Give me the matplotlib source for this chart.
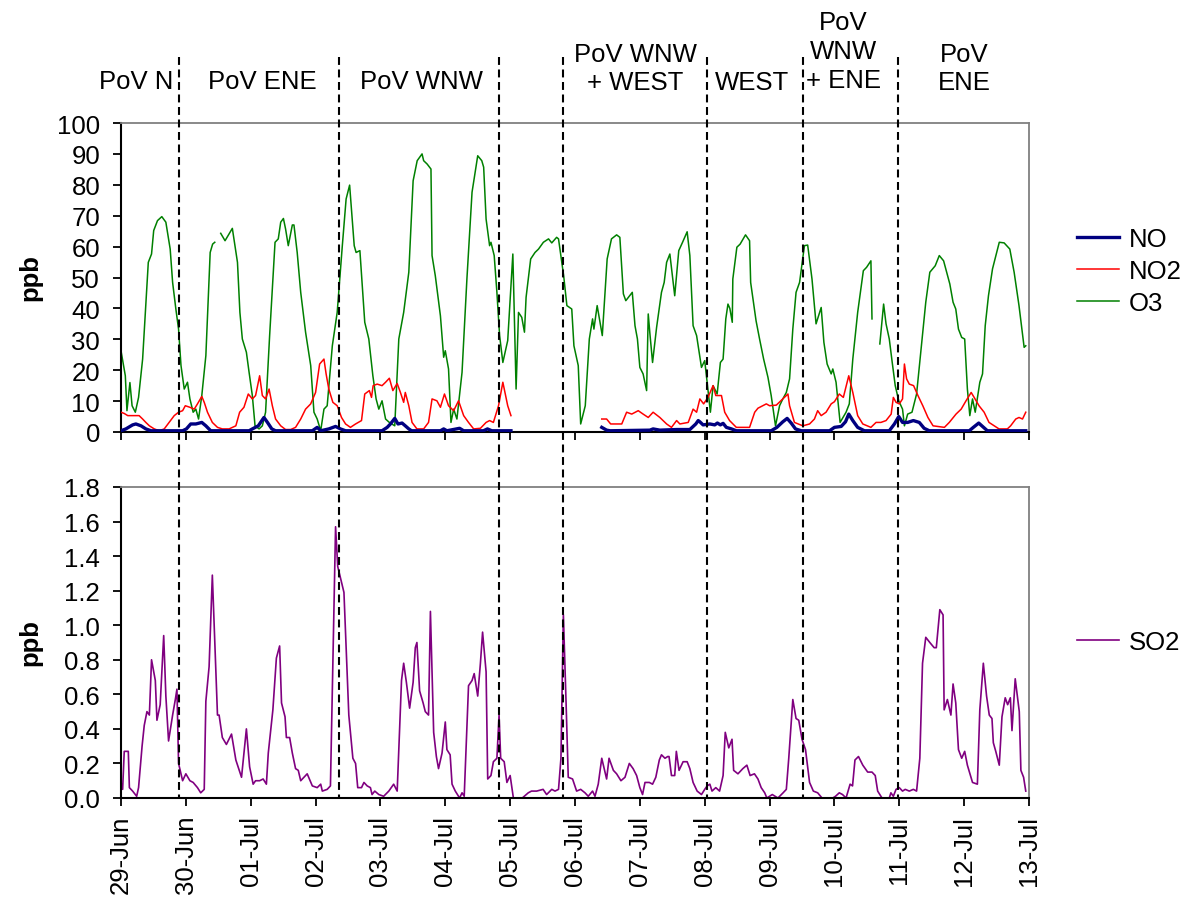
import numpy as np
import matplotlib
matplotlib.use("Agg")
import matplotlib.pyplot as plt
from matplotlib.lines import Line2D
import matplotlib.transforms as mtransforms

plt.rcParams['font.family'] = ['Liberation Sans', 'DejaVu Sans']
FS = 18.5
nan = np.nan

# ---------------- data (time in hours since 29-Jun 00:00) ----------------
tick_labels = ['29-Jun', '30-Jun', '01-Jul', '02-Jul', '03-Jul', '04-Jul', '05-Jul', '06-Jul',
               '07-Jul', '08-Jul', '09-Jul', '10-Jul', '11-Jul', '12-Jul', '13-Jul']

o3_t = [0, 1.6, 2.2, 3.3, 4.1, 5.3, 6.5, 8, 10.1, 11.3, 12.1, 13.5, 15.1, 16.6, 18.2, 19.1, 20.3, 21.3,
        22.2, 23.4, 24.6, 25.5, 26.7, 27.7, 28.7, 29.9, 31.4, 33, 33.9, 34.7, 35.8, 36.9, 38.5, 41.2,
        43.1, 44, 44.9, 46.4, 47.4, 48.6, 49.6, 51.1, 52.3, 53.5, 55, 57, 58.2, 59.1, 60.1, 60.9, 61.9,
        63.4, 64, 65.2, 66.5, 68.3, 70.2, 71.4, 72.6, 73.9, 75.1, 76.3, 78.2, 80, 81.9, 83.3, 84.6,
        86.3, 87, 88.4, 90.2, 91.7, 93.2, 94.4, 95.4, 96.6, 97.9, 99.3, 101.3, 102.8, 104.6, 106.5,
        108.1, 109.6, 110.5, 111.4, 112, 113.3, 114.7, 115.1, 116.3, 118.2, 119.4, 120, 121.2, 122.1,
        123.1, 124.3, 126.2, 128, 129.9, 132, 133.5, 134.2, 135.1, 136.4, 136.9, 138.1, 139.1, 140.1,
        141.3, 143.1, 145, 146.2, 147.1, 148.3, 149.3, 149.9, 151.6, 153.2, 154.5, 156.3, 158.2,
        159.4, 161.2, 161.9, 163.8, 165, 166.8, 167.6, 169.2, 170.1, 171.8, 173.3, 174.5, 175, 176.2,
        178.1, 179.9, 181.5, 183.4, 184.6, 185.9, 186.8, 189.2, 190.2, 191.1, 192, 193.2, 194.5,
        195.1, 195.7, 196.7, 198.2, 200, 201, 201.9, 203.1, 204.9, 206.4, 207.8, 209.5, 210.5, 211.7,
        213, 214.8, 216, 216.9, 218.1, 219.1, 220.6, 221.8, 222.8, 223.8, 224.6, 225.3, 226.2, 226.4,
        227.9, 229.1, 231.1, 232.6, 233, 235, 236.3, 237.8, 239.4, 240.6, 242.2, 243.7, 244.9, 246.2,
        247.4, 248.6, 249.8, 251.1, 252.9, 254.1, 255.7, 257.2, 259.1, 260.1, 261.3, 262.8, 263.4,
        264.6, 265.6, 266.1, 268.3, 269.5, 270.8, 272.6, 274.7, 275.9, 277.5, 277.9, 279, 280.8,
        282.2, 283.1, 284.3, 285.3, 286.5, 287.8, 289.2, 289.9, 291.1, 292.7, 294.4, 296.2, 297.8,
        299.3, 301.3, 302.8, 304.4, 306.7, 307.9, 308.9, 309.9, 311.1, 312.2, 313.2, 314.1, 315.1,
        316.1, 317.8, 318.8, 319.8, 321, 322.5, 325, 326.8, 328.9, 330.5, 332.3, 334.2, 334.8]
o3_v = [26.3, 18.2, 6.9, 16, 8.5, 6.4, 11.2, 23.6, 54.9, 57.6, 65.2, 68.4, 69.7, 67.9, 59.2, 48.4, 39.8,
        33.3, 21.5, 13.9, 16.1, 10.7, 6.4, 7.4, 4.2, 11.8, 24.7, 58.1, 60.8, 61.4, nan, 64.3, 61.9,
        65.9, 54.9, 38.7, 30.1, 25.8, 19.3, 11.8, 2, 1, 2, 6.4, 31.2, 61.4, 62.5, 67.9, 69.1, 65.7,
        60.3, 67, 67, 58.1, 45.2, 32.3, 21.5, 6.4, 4.2, 0.4, 7.4, 8.5, 27.9, 38.7, 60.3, 75.4, 79.9,
        60.3, 58.1, 58.7, 35.5, 30.1, 18.2, 10.7, 7.4, 10.1, 4.2, 3.1, 2, 30.1, 38.7, 51.7, 81.3,
        87.8, 88.9, 90, 87.8, 86.7, 85.1, 57.1, 50.6, 37.6, 24.2, 26.3, 20.4, 3.1, 7.4, 4.2, 19.3,
        49.5, 77.6, 89.4, 87.8, 85.7, 68.9, 60.3, 61.4, 57.1, 45.2, 31.2, 22.5, 29.6, 57.6, 13.9,
        38.7, 37.1, 32.3, 43.6, 56, 58.1, 59.2, 61.4, 62.5, 61.2, 63, 62.5, 50.6, 40.9, 39.8, 27.9,
        21.5, 2.6, 8.5, 30.1, 36.6, 33.3, 40.9, 31.2, 56, 62.5, 63.8, 63, 44.7, 42.5, 45.2, 34.4,
        30.1, 20.9, 18.8, 13.4, 38.2, 32, 22.5, 33.9, 45.2, 48.4, 54.9, 57.6, 44.1, 58.7, 61.4, 64.8,
        57.1, 34.4, 31.2, 20.9, 23.1, 16.1, 6.4, 15, 12.3, 22.5, 23.6, 36.6, 41.4, 40, 35.5, 49.5,
        59.8, 60.8, 63.8, 61.9, 48.4, 36, 30.1, 23.6, 17.7, 11.8, 2, 8.5, 10.7, 12.8, 17.2, 33.3,
        45.2, 48.4, 60.3, 60.5, 49.5, 35, 40.3, 29, 22, 18.8, 20.4, 16.1, 7.4, 3.1, 6.4, 9.1, 23.6,
        38.7, 52.2, 53.3, 55.4, 36.6, nan, 28.5, 41.4, 35, 30.1, 23.1, 15, 10.1, 7.4, 2, 5.8, 6.4,
        12.3, 27.9, 42, 51.7, 53.8, 57.1, 55.4, 47.9, 42, 39.8, 33.3, 30.6, 30.1, 13.9, 5.3, 10.7,
        6.4, 16.1, 18.8, 34.4, 44.1, 52.8, 61.4, 61.2, 59.2, 51.7, 40.9, 27.4, 27.9]

no2_t = [0, 1.2, 2.5, 5.5, 6.7, 8, 9.2, 10.5, 12.3, 14.2, 16, 17.8, 19.7, 21.3, 22.8, 23.8, 25.5, 27.1,
         28.3, 29.9, 30.8, 32, 33.8, 35.7, 37.5, 40, 42.5, 43.9, 45.5, 47.1, 48.6, 49.8, 51.3, 52.3,
         53.5, 54.8, 56, 57.2, 59.1, 60.9, 62.8, 64.6, 66.5, 68.3, 70.2, 72, 73.5, 75.1, 75.9, 76.9,
         78.4, 80, 81.6, 83.1, 84.9, 86.8, 89, 90.2, 91.9, 92.7, 93.3, 94.8, 96.6, 97.9, 99.3, 100.6,
         102.2, 103.4, 104.6, 105.2, 106.5, 107.7, 109.5, 112, 113.8, 115.1, 116.9, 118.2, 119.7,
         121.2, 123.1, 124.9, 126.8, 128.6, 130.5, 133, 135.1, 136.4, 137.8, 139.7, 141.3, 143.1,
         144.3, 160, 177.9, 179.7, 181.2, 185.3, 187.1, 189, 191.4, 193.2, 195.1, 196.9, 199.4,
         201.9, 203.7, 205.6, 206.8, 209.9, 211.7, 213, 214.2, 215.6, 217.2, 219.1, 220.1, 222.2,
         223.4, 225.2, 227.7, 232.6, 234.5, 235.7, 238.8, 240, 242.5, 244.9, 246.8, 247.4, 249.2,
         252.3, 254.8, 256.6, 257.8, 259.1, 260.9, 262.8, 264, 265.8, 267.3, 269.3, 270.8, 272.6,
         274.5, 277.5, 279.4, 281.2, 283.1, 285, 285.8, 286.8, 288, 289.2, 289.9, 290.7, 291.7,
         293.3, 294.9, 296.7, 298.6, 300.5, 304.7, 306.5, 309, 310.9, 312.7, 314.6, 315.7, 317.5,
         319.4, 321.2, 324.9, 328, 329.2, 331.1, 332.3, 333.6, 334.8]
no2_v = [6.4, 6, 5.3, 5.3, 5.3, 4.2, 3.1, 2, 1, 0.4, 1, 3.1, 5.3, 6.4, 6.9, 8.5, 8, 7.4, 9.1, 11.5,
         9.6, 6.4, 3.1, 1.5, 1, 1, 2, 6.4, 8, 12.3, 10.7, 11.8, 18.2, 11.8, 10.7, 13.9, 8.5, 4.2, 2,
         0.8, 0.8, 1.5, 4.2, 7.4, 9.1, 12.8, 22, 23.6, 18.8, 13.9, 9.6, 8.5, 4.7, 2.6, 1.5, 2.6, 3.7,
         12.3, 13.4, 11.2, 15, 15.5, 15, 16.1, 17.4, 13.4, 15.7, 12.8, 9.6, 12.8, 8.5, 3.1, 1, 1,
         3.1, 10.7, 10.1, 8, 12.3, 8.5, 6.9, 10.1, 5.3, 3.1, 1, 1.2, 3.1, 3.7, 3.1, 8.5, 16.1, 8.5,
         5.3, nan, 4.2, 4.2, 2.6, 2.6, 6.4, 5.8, 6.9, 5.8, 4.7, 6.4, 4.7, 2.6, 1.5, 3.7, 2.6, 3.1,
         7.4, 6.4, 10.7, 9.1, 11.2, 15, 11.8, 11.8, 6.4, 3.7, 1.5, 1.5, 6.4, 7.7, 9.1, 8.5, 8.7,
         10.7, 12.3, 8.5, 3.1, 2, 2.6, 4.2, 6.9, 5.3, 6.4, 9.1, 9.8, 12.3, 11.2, 18.2, 12.8, 5.3, 2.6,
         1.5, 3.1, 3.1, 3.7, 5.8, 11.2, 9.6, 9.1, 10.7, 22, 17.2, 15.5, 15, 11.8, 8.5, 4.7, 2, 1.5,
         3.1, 5.8, 7.4, 10.1, 12.8, 11.2, 8.5, 6.4, 3.1, 1, 1, 2, 4.2, 4.7, 4.2, 6.4]

no_t = [0, 1.8, 4.3, 5.5, 7.4, 9.2, 11.1, 22.8, 24.2, 25.8, 27.7, 29.9, 31.4, 33.2, 47.4, 48.6, 50.8,
        52.9, 54.2, 55.8, 57.2, 70.8, 72.6, 73.9, 76.9, 79.4, 81.2, 83.1, 96.6, 98.5, 99.7, 101.3,
        102.5, 104, 105.2, 106.5, 107.5, 118.2, 119.4, 120.6, 125.3, 126.8, 134.1, 135.6, 137.2,
        144.3, 160, 177.9, 179.7, 181, 195.7, 196.9, 199.4, 205.6, 210.5, 212.7, 213.6, 214.2,
        215.4, 217.9, 219.7, 220.7, 221.8, 222.8, 224, 225.9, 227.7, 240.6, 242.7, 244.9, 246.5,
        248, 249.6, 251.7, 262.2, 264, 266.5, 268.1, 269.3, 270.8, 272.6, 275.1, 284.3, 286.2,
        287.8, 289.2, 291.1, 293.2, 295.4, 297.2, 299.1, 313.9, 315.4, 317.4, 318.8, 320.6, 334.8]
no_v = [0.4, 1, 2.3, 2.6, 2, 1, 0.4, 0.4, 1, 2.6, 2.6, 3.1, 2, 0.4, 0.4, 1, 2, 4.7, 3.1, 1, 0.4, 0.4,
        1.5, 0.4, 1, 1.8, 1, 0.4, 0.4, 1.5, 2.6, 4.4, 2.6, 2.9, 2, 1, 0.4, 0.4, 1, 0.4, 1.2, 0.4,
        0.4, 1, 0.4, 0.4, nan, 1.5, 0.6, 0.4, 0.6, 1, 0.6, 0.8, 0.8, 2.6, 3.7, 3.3, 2.3, 2.6, 2.3,
        2.9, 2.3, 2.8, 1.5, 1, 0.4, 0.4, 1.5, 3.3, 4.4, 2.9, 1, 0.4, 0.4, 1.5, 1.8, 3.3, 5.8, 3.7,
        1.5, 0.4, 0.4, 2.6, 5, 3.1, 3.1, 3.7, 3.1, 1.2, 0.4, 0.4, 1.5, 2.9, 1.8, 0.4, 0.4]

so2_t = [0, 0.6, 1.2, 2.7, 3.1, 4.3, 5.8, 6.5, 7.8, 8.6, 9.6, 10.5, 11.3, 12.7, 13.3, 14.5, 15.8, 16.6,
         17.6, 19.1, 20.1, 20.7, 21.3, 22.8, 24, 25.5, 26.7, 28.3, 29.5, 30.8, 31.4, 32.6, 33.8, 35.7,
         36.3, 37.5, 39, 40.9, 42.5, 44.6, 46.4, 47.6, 48.9, 49.8, 51.3, 52.6, 53.8, 54.5, 56.2, 57.5,
         58.7, 59.4, 60.7, 61.2, 62.4, 63.4, 64.6, 65.6, 66.5, 68.9, 70.8, 72.6, 73.9, 74.5, 76.3,
         77.5, 79.4, 80.2, 82.5, 84.3, 85.8, 86.8, 87.6, 89, 89.9, 91.1, 92.3, 92.9, 93.9, 95.4, 97.2,
         99.1, 100.9, 102.2, 103.8, 104.6, 105.6, 106.8, 108.1, 108.9, 109.5, 110.5, 111.8, 112.6,
         113.8, 114.5, 115.7, 116.7, 117.5, 118.8, 120, 120.6, 121.8, 122.5, 123.7, 125.3, 126.2, 127,
         128.6, 129.9, 130.7, 132, 133, 133.8, 135.1, 135.7, 136.9, 137.8, 139.1, 139.9, 140.5, 141.8,
         142.8, 144, 145.2, 146.5, 148.5, 150.7, 151.9, 153.8, 156.2, 157.5, 159.4, 160.6, 161.9,
         162.8, 163.7, 164.7, 165.5, 167.1, 168.6, 170.1, 171.7, 172.9, 174.5, 175.4, 176.6, 177.9,
         179.7, 180.6, 182.2, 183.4, 185, 186.5, 188.1, 189.5, 190.8, 192, 193, 193.9, 195.5, 196.7,
         197.9, 199.2, 200, 201.3, 202.3, 202.8, 203.7, 204.9, 205.5, 206.5, 208, 209.5, 210.5, 211.7,
         213.2, 214.8, 216, 216.9, 217.9, 218.7, 220.1, 221.5, 222.8, 223.6, 224.9, 226.1, 226.7,
         228.3, 230.1, 231.6, 232.8, 234.4, 235.7, 236.9, 238.2, 239, 241, 243.1, 245, 246.2, 247.1,
         248.6, 249.8, 250.8, 252, 253.3, 254.8, 256.2, 257.8, 259.4, 263.4, 264.4, 265.8, 267,
         268.3, 269.8, 270.7, 271.6, 272.9, 274.5, 276.3, 277.9, 279.1, 280, 281.6, 284.3, 284.9,
         285.8, 286.8, 288, 289.2, 290.2, 291.7, 293.2, 294.4, 295.6, 296.6, 297.8, 299.3, 300.9,
         301.7, 303, 304.2, 304.6, 305.8, 307.1, 307.9, 308.9, 309.9, 311.1, 312.2, 313.2, 315.1,
         316.9, 317.8, 319.1, 320.3, 321.3, 322.3, 322.8, 323.7, 325, 326, 327.2, 328.1, 329.1,
         329.7, 330.9, 332.4, 333, 334, 334.8]
so2_v = [0.09, 0.05, 0.27, 0.27, 0.06, 0.04, 0.01, 0.06, 0.30, 0.42, 0.50, 0.48, 0.80, 0.68, 0.45, 0.54,
         0.94, 0.59, 0.33, 0.48, 0.57, 0.63, 0.20, 0.10, 0.14, 0.10, 0.09, 0.06, 0.03, 0.05, 0.56,
         0.76, 1.29, 0.48, 0.48, 0.35, 0.31, 0.37, 0.22, 0.12, 0.40, 0.18, 0.08, 0.10, 0.10, 0.11,
         0.08, 0.26, 0.51, 0.81, 0.88, 0.55, 0.47, 0.35, 0.35, 0.26, 0.17, 0.16, 0.10, 0.14, 0.07,
         0.06, 0.08, 0.04, 0.05, 0.07, 1.57, 1.34, 1.19, 0.48, 0.23, 0.20, 0.06, 0.06, 0.09, 0.07,
         0.06, 0.02, 0.04, 0.02, 0.01, 0.04, 0.08, 0.04, 0.68, 0.78, 0.67, 0.52, 0.67, 0.87, 0.90,
         0.62, 0.55, 0.50, 0.48, 1.08, 0.38, 0.24, 0.17, 0.26, 0.44, 0.28, 0.25, 0.08, 0.04, 0.00,
         0.03, 0.01, 0.65, 0.68, 0.72, 0.59, 0.78, 0.96, 0.73, 0.11, 0.13, 0.21, 0.23, 0.48, 0.23,
         0.21, 0.09, 0.13, 0.00, 0.00, 0.00, 0.03, 0.04, 0.04, 0.05, 0.02, 0.05, 0.04, 0.05, 0.23,
         1.06, 0.55, 0.12, 0.11, 0.04, 0.05, 0.03, 0.01, 0.04, 0.01, 0.08, 0.23, 0.11, 0.23, 0.16,
         0.14, 0.10, 0.12, 0.20, 0.17, 0.13, 0.06, 0.02, 0.09, 0.09, 0.08, 0.12, 0.22, 0.25, 0.23,
         0.24, 0.24, 0.13, 0.13, 0.27, 0.16, 0.21, 0.21, 0.17, 0.09, 0.04, 0.02, 0.05, 0.07, 0.08,
         0.04, 0.06, 0.04, 0.13, 0.38, 0.29, 0.34, 0.16, 0.14, 0.17, 0.19, 0.13, 0.14, 0.11, 0.06,
         0.03, 0.00, 0.02, 0.00, 0.03, 0.05, 0.23, 0.57, 0.46, 0.45, 0.34, 0.28, 0.09, 0.04, 0.03,
         0.00, 0.00, 0.01, 0.03, 0.02, 0.00, 0.08, 0.07, 0.22, 0.24, 0.19, 0.15, 0.15, 0.13, 0.04,
         0.00, 0.00, 0.03, 0.01, 0.05, 0.06, 0.04, 0.05, 0.04, 0.05, 0.04, 0.23, 0.78, 0.93, 0.90,
         0.87, 0.87, 1.09, 1.06, 0.51, 0.57, 0.48, 0.66, 0.55, 0.28, 0.23, 0.27, 0.19, 0.09, 0.08,
         0.51, 0.78, 0.59, 0.48, 0.46, 0.32, 0.27, 0.19, 0.47, 0.58, 0.54, 0.58, 0.39, 0.69, 0.50,
         0.16, 0.12, 0.04]

# wind-sector boundaries (hours) and labels
sector_t = [21.3, 80.6, 139.7, 163.5, 216.8, 252.3, 287.7]
sector_labels = ['PoV N', 'PoV ENE', 'PoV WNW', 'PoV WNW\n+ WEST', 'WEST', 'PoV\nWNW\n+ ENE', 'PoV\nENE']
sector_label_x = [136, 262, 421, 635, 752, 843, 964]      # pixel centres
sector_label_y = [82, 82, 82, 69, 83, 52, 69]

# ---------------- figure ----------------
W, H = 1190, 904
fig = plt.figure(figsize=(W / 100, H / 100), dpi=100)

def ax_rect(l, t, r, b):
    return [l / W, 1 - b / H, (r - l) / W, (b - t) / H]

ax1 = fig.add_axes(ax_rect(121, 124, 1029, 433))
ax2 = fig.add_axes(ax_rect(121, 488, 1029, 799))

ax1.plot(no_t, no_v, color='#000080', lw=2.4, label='NO', zorder=4)
ax1.plot(no2_t, no2_v, color='#FF0000', lw=1.1, label='NO2', zorder=3)
ax1.plot(o3_t, o3_v, color='#008000', lw=1.1, label='O3', zorder=2)
ax2.plot(so2_t, so2_v, color='#800080', lw=1.2, label='SO2')

xt = np.arange(0, 337, 24)
for ax in (ax1, ax2):
    ax.set_xlim(0, 336)
    ax.set_xticks(xt)
    for s in ('top', 'right'):
        ax.spines[s].set_color('#808080')
        ax.spines[s].set_linewidth(1.3)
    for s in ('left', 'bottom'):
        ax.spines[s].set_color('black')
        ax.spines[s].set_linewidth(1.5)
    ax.tick_params(direction='out', length=6, width=1.3, labelsize=FS, pad=9, color='black')

ax1.set_ylim(0, 100)
ax1.set_yticks(np.arange(0, 101, 10))
ax1.set_xticklabels([])
ax2.set_ylim(0, 1.8)
ax2.set_yticks(np.arange(0, 1.81, 0.2))
ax2.set_yticklabels(['%.1f' % v for v in np.arange(0, 1.81, 0.2)])
ax2.set_xticklabels(tick_labels, rotation=90, ha='center', va='top')
ax2.tick_params(axis='x', pad=6)

# y labels
fig.text(30 / W, 1 - 278 / H, 'ppb', rotation=90, fontsize=FS, fontweight='bold',
         ha='center', va='center')
fig.text(30 / W, 1 - 643 / H, 'ppb', rotation=90, fontsize=FS, fontweight='bold',
         ha='center', va='center')

# dashed sector lines spanning both panels
tr = mtransforms.blended_transform_factory(ax1.transData, fig.transFigure)
for t in sector_t:
    fig.add_artist(Line2D([t, t], [1 - 58 / H, 1 - 799 / H], transform=tr, color='black',
                          lw=1.5, linestyle=(0, (3.8, 2.2)), zorder=5))

for lab, x, y in zip(sector_labels, sector_label_x, sector_label_y):
    fig.text(x / W, 1 - y / H, lab, fontsize=FS, ha='center', va='center',
             multialignment='center', linespacing=1.25)

# legends
leg_kw = dict(frameon=False, fontsize=FS, handlelength=1.65, handletextpad=0.35,
              labelspacing=0.3, borderpad=0, borderaxespad=0, loc='center left',
              bbox_transform=fig.transFigure)
ax1.legend(bbox_to_anchor=(1077 / W, 1 - 272 / H), **leg_kw)
ax2.legend(bbox_to_anchor=(1077 / W, 1 - 643 / H), **leg_kw)

fig.savefig('out.png', dpi=100)
